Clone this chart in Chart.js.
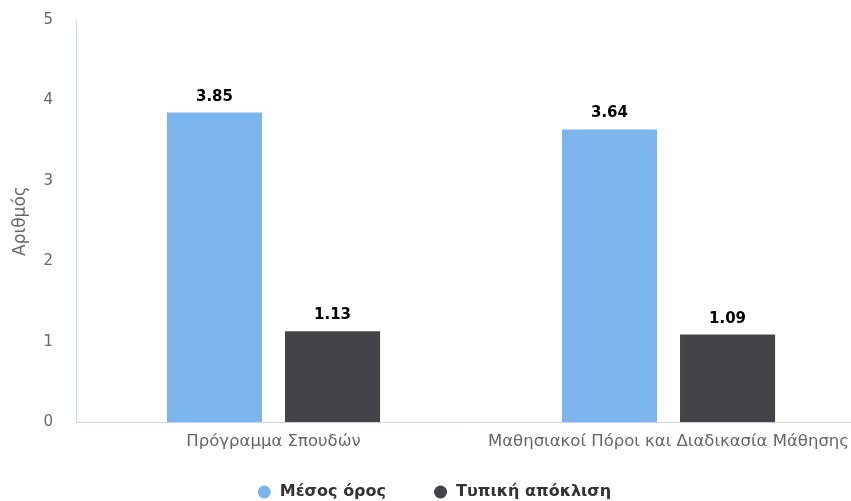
<!DOCTYPE html>
<html>
<head>
<meta charset="utf-8">
<script src="https://cdn.jsdelivr.net/npm/chart.js@4/dist/chart.umd.min.js"></script>
<style>
  html, body { margin: 0; padding: 0; background: #fff; overflow: hidden; }
  #wrap { width: 866px; height: 501px; }
</style>
</head>
<body>
<div id="wrap"><canvas id="chart-scores"></canvas></div>
<script>
var categories = ['Πρόγραμμα Σπουδών', 'Μαθησιακοί Πόροι και Διαδικασία Μάθησης'];
var seriesNames = ['Μέσος όρος', 'Τυπική απόκλιση'];
var meanValues = [3.85, 3.64];
var stdValues = [1.13, 1.09];
var yTicks = [0, 1, 2, 3, 4, 5];

var fontFamily = '"DejaVu Sans", sans-serif';
var legendGap = 47;
var legendFontSize = 16;

// value labels over each bar
var barLabels = {
    id: 'barLabels',
    afterDatasetsDraw: function(chart) {
        var ctx = chart.ctx;
        ctx.save();
        ctx.font = 'bold 15px ' + fontFamily;
        ctx.fillStyle = '#000';
        ctx.textAlign = 'center';
        ctx.textBaseline = 'alphabetic';
        chart.data.datasets.forEach(function(ds, i) {
            chart.getDatasetMeta(i).data.forEach(function(bar, j) {
                ctx.fillText(ds.data[j].toFixed(2), bar.x, bar.y - 12);
            });
        });
        ctx.restore();
    }
};

// the legend needs wide gaps between items but must not eat the plot height
var legendSpacing = {
    id: 'legendSpacing',
    beforeInit: function(chart) {
        var origFit = chart.legend.fit;
        chart.legend.fit = function() {
            origFit.bind(chart.legend)();
            this.height = 39;
        };
    },
    afterLayout: function(chart) {
        var lg = chart.legend;
        lg.top = 492 - legendFontSize / 2 - legendGap;
        lg.bottom = chart.height;
        lg.height = lg.bottom - lg.top;
        lg.left = 2;
    }
};

var ctx = document.getElementById('chart-scores').getContext('2d');
var scoresChart = new Chart(ctx, {
    type: 'bar',
    data: {
        labels: categories,
        datasets: [
            {
                label: seriesNames[0],
                data: meanValues,
                backgroundColor: '#7cb5ec',
                categoryPercentage: 0.598,
                barPercentage: 0.805
            },
            {
                label: seriesNames[1],
                data: stdValues,
                backgroundColor: '#434348',
                categoryPercentage: 0.598,
                barPercentage: 0.805
            }
        ]
    },
    options: {
        responsive: true,
        maintainAspectRatio: false,
        animation: false,
        layout: { padding: { top: 20, right: 0, left: 10, bottom: 0 } },
        plugins: {
            tooltip: { enabled: false },
            legend: {
                position: 'bottom',
                labels: {
                    usePointStyle: true,
                    pointStyle: 'circle',
                    boxWidth: 15,
                    boxHeight: 9.2,
                    padding: legendGap,
                    color: '#333',
                    font: { family: fontFamily, size: legendFontSize, weight: 'bold' }
                }
            }
        },
        scales: {
            x: {
                grid: { display: false, drawTicks: false },
                border: { display: true, color: '#ccd6eb', width: 1 },
                ticks: {
                    color: '#666',
                    padding: 10,
                    maxRotation: 0,
                    font: { family: fontFamily, size: 16.5 }
                }
            },
            y: {
                min: 0,
                max: 5,
                afterBuildTicks: function(scale) {
                    scale.ticks = yTicks.map(function(v) { return { value: v }; });
                },
                afterFit: function(scale) {
                    scale.width = 66;
                    scale.paddingTop = 9;
                    scale.paddingBottom = 9;
                },
                grid: { display: false, drawTicks: false },
                border: { display: true, color: '#ccd6eb', width: 1 },
                title: {
                    display: true,
                    text: 'Αριθμός',
                    color: '#666',
                    padding: { top: 0, bottom: 12 },
                    font: { family: fontFamily, size: 17 }
                },
                ticks: {
                    color: '#666',
                    padding: 23,
                    font: { family: fontFamily, size: 15 }
                }
            }
        }
    },
    plugins: [barLabels, legendSpacing]
});
</script>
</body>
</html>
